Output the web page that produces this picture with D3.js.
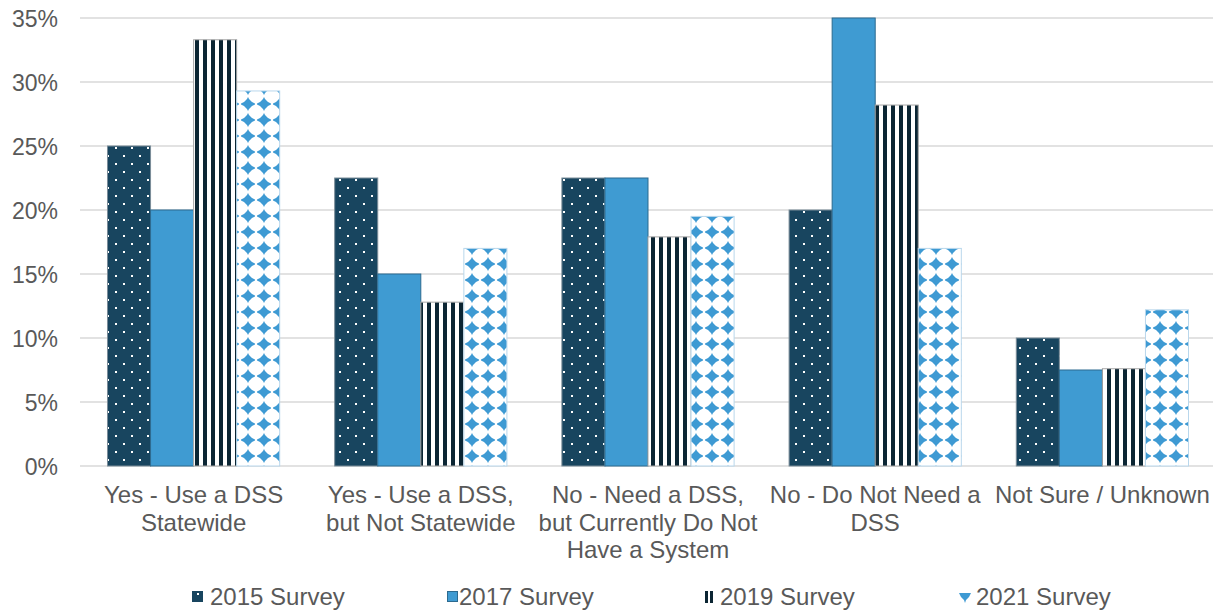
<!DOCTYPE html>
<html><head><meta charset="utf-8">
<script src="https://cdn.jsdelivr.net/npm/d3@7"></script>
<style>body{margin:0;background:#fff}svg{display:block;font-family:"Liberation Sans",Arial,sans-serif}</style>
</head><body><svg id="c" width="1213" height="612"></svg>
<script>
const categories = [
  ["Yes - Use a DSS", "Statewide"],
  ["Yes - Use a DSS,", "but Not Statewide"],
  ["No - Need a DSS,", "but Currently Do Not", "Have a System"],
  ["No - Do Not Need a", "DSS"],
  ["Not Sure / Unknown"]
];
const seriesNames = ["2015 Survey", "2017 Survey", "2019 Survey", "2021 Survey"];
const s2015 = [25.0, 22.5, 22.5, 20.0, 10.0];
const s2017 = [20.0, 15.0, 22.5, 35.0, 7.5];
const s2019 = [33.3, 12.8, 17.9, 28.2, 7.6];
const s2021 = [29.3, 17.0, 19.5, 17.0, 12.2];
const yTicks = [0, 5, 10, 15, 20, 25, 30, 35];

const series = [s2015, s2017, s2019, s2021];
const svg = d3.select("#c");
const W = 1213, H = 612;
const m = {left: 80, right: -3, top: 18, bottom: 146};
const x0 = d3.scaleBand().domain(d3.range(categories.length)).range([m.left, W - m.right]).paddingInner(0.242).paddingOuter(0.121);
const x1 = d3.scaleBand().domain(d3.range(series.length)).range([0, x0.bandwidth()]);
const y = d3.scaleLinear().domain([0, 35]).range([H - m.bottom, m.top]);

// patterns
const defs = svg.append("defs");
const p1 = defs.append("pattern").attr("id","p2015").attr("patternUnits","userSpaceOnUse").attr("width",16).attr("height",16);
p1.append("rect").attr("width",16).attr("height",16).attr("fill","#18455f");
p1.append("rect").attr("x",3).attr("y",3).attr("width",2).attr("height",2).attr("fill","#fff");
p1.append("rect").attr("x",11).attr("y",11).attr("width",2).attr("height",2).attr("fill","#fff");
const p3 = defs.append("pattern").attr("id","p2019").attr("patternUnits","userSpaceOnUse").attr("width",8).attr("height",8);
p3.append("rect").attr("width",8).attr("height",8).attr("fill","#fff");
p3.append("rect").attr("x",3).attr("width",4).attr("height",8).attr("fill","#0b2533");
const p4 = defs.append("pattern").attr("id","p2021").attr("patternUnits","userSpaceOnUse").attr("width",16).attr("height",16);
p4.append("rect").attr("width",16).attr("height",16).attr("fill","#fff");
p4.append("path").attr("d","M8,1 L9,3 L12,6 L15,7.5 L15,8.5 L12,10 L9,13 L8,15 L7,13 L4,10 L1,8.5 L1,7.5 L4,6 L7,3 Z").attr("fill","#3e9ad3");
const fills = ["url(#p2015)", "#3f9bd2", "url(#p2019)", "url(#p2021)"];
const strokes = ["#7b8d99", "#2c6a8f", "#a7a7a7", "#b9d7ec"];

// grid
svg.append("g").selectAll("line").data(yTicks).join("line")
  .attr("x1", m.left).attr("x2", W).attr("y1", d => y(d)).attr("y2", d => y(d))
  .attr("stroke", "#d9d9d9").attr("stroke-width", 1.5);

// y axis labels
const yAxis = d3.axisLeft(y).tickValues(yTicks).tickFormat(d => d + "%").tickSize(0).tickPadding(0);
const ga = svg.append("g").attr("transform", `translate(${m.left-22},0)`).call(yAxis);
ga.select(".domain").remove();
ga.selectAll("text").attr("font-size", 23).attr("fill", "#595959").attr("font-family","Liberation Sans, Arial, sans-serif").attr("dy","0.35em");

// bars
series.forEach((s, si) => {
  svg.append("g").selectAll("rect").data(s).join("rect")
    .attr("x", (d, i) => x0(i) + x1(si))
    .attr("y", d => y(d))
    .attr("width", x1.bandwidth())
    .attr("height", d => y(0) - y(d))
    .attr("fill", fills[si])
    .attr("stroke", strokes[si]).attr("stroke-width", 1);
});

// category labels
categories.forEach((lines, i) => {
  const t = svg.append("text").attr("x", x0(i) + x0.bandwidth()/2).attr("y", 503)
    .attr("text-anchor","middle").attr("font-size", 24).attr("fill","#595959");
  lines.forEach((l, k) => t.append("tspan").attr("x", x0(i) + x0.bandwidth()/2).attr("dy", k === 0 ? 0 : 27.5).text(l));
});

// legend
const legX = [192, 447, 703, 959];
const lg = svg.append("g");
seriesNames.forEach((n, i) => {
  const g = lg.append("g").attr("transform", `translate(${legX[i]},591)`);
  if (i === 0) {
    g.append("rect").attr("width",11).attr("height",11).attr("fill","#18455f");
    g.append("rect").attr("x",5).attr("y",2).attr("width",2).attr("height",2).attr("fill","#fff");
  } else if (i === 1) {
    g.append("rect").attr("x",0.5).attr("y",0.5).attr("width",10).attr("height",10).attr("fill","#3f9bd2").attr("stroke","#2c6a8f");
  } else if (i === 2) {
    g.append("rect").attr("x",2).attr("width",3).attr("height",12).attr("fill","#0b2533");
    g.append("rect").attr("x",7).attr("width",3).attr("height",12).attr("fill","#0b2533");
  } else {
    g.append("path").attr("d","M0,2 L12,2 L10,6 L7,9 L6,12 L5,9 L2,6 Z").attr("fill","#3e9ad3");
  }
  g.append("text").attr("x", i===0?18:(i===1?12:(i===2?17:17))).attr("y", 6).attr("dy","0.35em")
    .attr("font-size", 24).attr("fill","#595959").text(n);
});
</script></body></html>
